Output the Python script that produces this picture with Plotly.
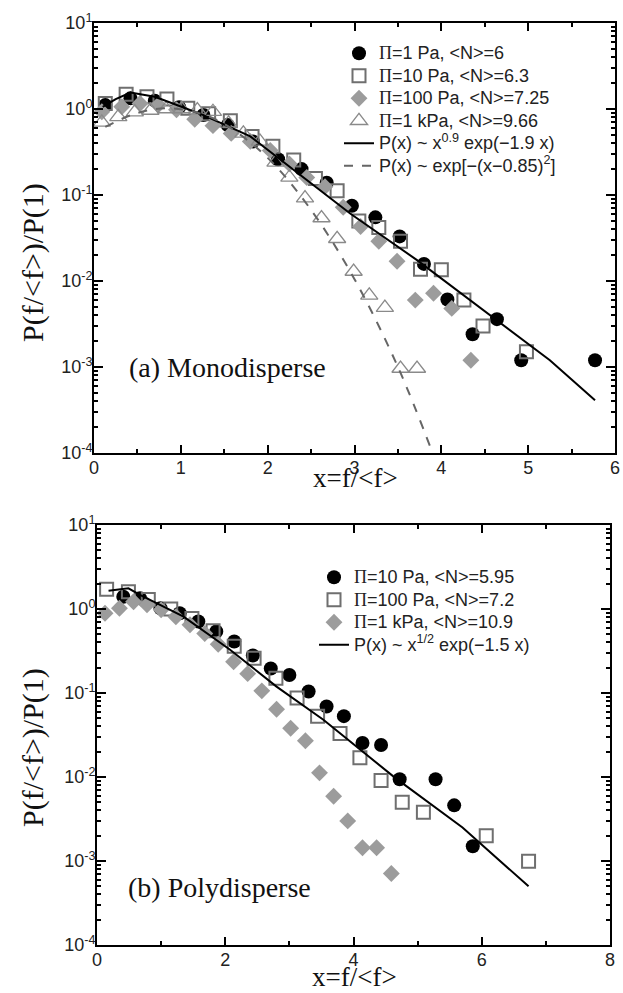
import plotly.graph_objects as go

W, H = 623, 993

# ---------------- Panel (a) Monodisperse ----------------
x_a_1pa = [0.13, 0.42, 0.70, 0.98, 1.26, 1.54, 1.83, 2.12, 2.39, 2.68, 2.97, 3.24, 3.52, 3.80, 4.07, 4.36, 4.64, 4.92, 5.77]
y_a_1pa = [1.11, 1.33, 1.25, 1.05, 0.85, 0.65, 0.42, 0.26, 0.20, 0.139, 0.075, 0.055, 0.033, 0.0158, 0.0061, 0.0024, 0.0036, 0.0012, 0.0012]

x_a_10pa = [0.13, 0.37, 0.61, 0.84, 1.08, 1.32, 1.57, 1.82, 2.06, 2.30, 2.55, 2.80, 3.05, 3.28, 3.53, 3.76, 4.00, 4.26, 4.48, 4.98]
y_a_10pa = [1.16, 1.48, 1.39, 1.31, 1.02, 0.88, 0.73, 0.48, 0.37, 0.255, 0.156, 0.112, 0.05, 0.042, 0.029, 0.0137, 0.0135, 0.006, 0.003, 0.0015]

x_a_100pa = [0.09, 0.32, 0.53, 0.74, 0.95, 1.16, 1.37, 1.58, 1.80, 2.03, 2.25, 2.45, 2.66, 2.87, 3.07, 3.28, 3.49, 3.70, 3.91, 4.12, 4.34]
y_a_100pa = [0.93, 1.06, 1.16, 1.11, 0.98, 0.76, 0.64, 0.52, 0.42, 0.33, 0.23, 0.16, 0.125, 0.072, 0.043, 0.029, 0.017, 0.006, 0.0072, 0.0048, 0.0012]

x_a_1kpa = [0.09, 0.28, 0.47, 0.65, 0.83, 1.01, 1.19, 1.37, 1.55, 1.72, 1.91, 2.09, 2.25, 2.43, 2.62, 2.80, 2.99, 3.17, 3.35, 3.53, 3.72]
y_a_1kpa = [0.70, 0.81, 0.92, 0.96, 1.0, 1.0, 0.97, 0.93, 0.68, 0.52, 0.42, 0.24, 0.16, 0.092, 0.054, 0.031, 0.0129, 0.0068, 0.0049, 0.00096, 0.00096]

fit_a_x = [0.10, 0.25, 0.42, 0.70, 1.00, 1.26, 1.80, 2.26, 2.64, 2.95, 3.72, 4.49, 5.25, 5.77]
fit_a_y = [1.06, 1.30, 1.55, 1.39, 1.07, 0.85, 0.48, 0.21, 0.105, 0.061, 0.0175, 0.0046, 0.0012, 0.00041]

gauss_x = [0.13, 0.50, 0.85, 1.20, 1.50, 2.00, 2.50, 3.00, 3.50, 3.90]
gauss_y = [0.62, 0.90, 1.02, 0.90, 0.67, 0.27, 0.067, 0.0105, 0.001, 0.0001]

# ---------------- Panel (b) Polydisperse ----------------
x_b_10pa = [0.41, 0.67, 0.99, 1.29, 1.58, 1.86, 2.14, 2.43, 2.71, 3.00, 3.30, 3.58, 3.85, 4.14, 4.43, 4.72, 5.28, 5.57, 5.86]
y_b_10pa = [1.40, 1.34, 1.02, 0.89, 0.71, 0.54, 0.41, 0.28, 0.196, 0.164, 0.104, 0.069, 0.053, 0.0254, 0.024, 0.0094, 0.0094, 0.0046, 0.0015]

x_b_100pa = [0.15, 0.49, 0.80, 1.15, 1.48, 1.81, 2.14, 2.45, 2.79, 3.12, 3.44, 3.79, 4.10, 4.43, 4.76, 5.09, 6.07, 6.73]
y_b_100pa = [1.72, 1.61, 1.30, 1.0, 0.77, 0.55, 0.36, 0.26, 0.15, 0.087, 0.053, 0.033, 0.017, 0.0091, 0.005, 0.0038, 0.0020, 0.00099]

x_b_1kpa = [0.125, 0.35, 0.57, 0.78, 1.0, 1.23, 1.45, 1.68, 1.89, 2.13, 2.35, 2.57, 2.80, 3.02, 3.25, 3.47, 3.69, 3.91, 4.14, 4.36, 4.59]
y_b_1kpa = [0.89, 1.02, 1.22, 1.12, 0.98, 0.81, 0.65, 0.51, 0.38, 0.236, 0.17, 0.106, 0.064, 0.038, 0.027, 0.0112, 0.0059, 0.0030, 0.00144, 0.00144, 0.00071]

fit_b_x = [0.18, 0.49, 0.67, 1.35, 2.07, 2.80, 3.53, 4.64, 5.70, 6.73]
fit_b_y = [1.65, 1.76, 1.47, 0.81, 0.33, 0.119, 0.048, 0.0099, 0.0025, 0.0005]

# tick labels
y_tickvals = [1e-4, 1e-3, 1e-2, 1e-1, 1e0, 1e1]
y_ticktext = ["10<sup>-4</sup>", "10<sup>-3</sup>", "10<sup>-2</sup>", "10<sup>-1</sup>", "10<sup>0</sup>", "10<sup>1</sup>"]
xa_tickvals = [0, 1, 2, 3, 4, 5, 6]
xb_tickvals = [0, 2, 4, 6, 8]

SANS = "Liberation Sans, Arial, sans-serif"
SERIF = "Liberation Serif, Times New Roman, serif"

BLACK = "#000000"
SQ = "#6f6f6f"
DIA = "#9c9c9c"
TRI = "#8a8a8a"


def lg(text):
    # legend label: serif capital Pi, larger text than the legend's row pitch
    text = text.replace("Π", '<span style="font-family:Liberation Serif">Π</span>')
    return '<span style="font-size:18px">' + text + "</span>"


def px_x(p):
    return p / W


def px_y(p):
    return 1 - p / H


fig = go.Figure()

# ---- panel a traces
fig.add_trace(go.Scatter(x=x_a_1pa, y=y_a_1pa, mode="markers", name=lg("Π=1 Pa, <N>=6"),
                         marker=dict(symbol="circle", size=14, color=BLACK), xaxis="x", yaxis="y", legend="legend"))
fig.add_trace(go.Scatter(x=x_a_10pa, y=y_a_10pa, mode="markers", name=lg("Π=10 Pa, <N>=6.3"),
                         marker=dict(symbol="square-open", size=13, color=SQ, line=dict(width=2, color=SQ)),
                         xaxis="x", yaxis="y", legend="legend"))
fig.add_trace(go.Scatter(x=x_a_100pa, y=y_a_100pa, mode="markers", name=lg("Π=100 Pa, <N>=7.25"),
                         marker=dict(symbol="diamond", size=13, color=DIA), xaxis="x", yaxis="y", legend="legend"))
fig.add_trace(go.Scatter(x=x_a_1kpa, y=y_a_1kpa, mode="markers", name=lg("Π=1 kPa, <N>=9.66"),
                         marker=dict(symbol="triangle-up-open", size=15, color=TRI, line=dict(width=1.3, color=TRI)),
                         xaxis="x", yaxis="y", legend="legend"))
fig.add_trace(go.Scatter(x=fit_a_x, y=fit_a_y, mode="lines", name=lg("P(x) ~ x<sup>0.9</sup> exp(−1.9 x)"),
                         line=dict(color=BLACK, width=2), xaxis="x", yaxis="y", legend="legend"))
fig.add_trace(go.Scatter(x=gauss_x, y=gauss_y, mode="lines", name=lg("P(x) ~ exp[−(x−0.85)<sup>2</sup>]"),
                         line=dict(color="#666666", width=2, dash="dash", shape="spline"),
                         xaxis="x", yaxis="y", legend="legend"))

# ---- panel b traces
fig.add_trace(go.Scatter(x=x_b_10pa, y=y_b_10pa, mode="markers", name=lg("Π=10 Pa, <N>=5.95"),
                         marker=dict(symbol="circle", size=14, color=BLACK), xaxis="x2", yaxis="y2", legend="legend2"))
fig.add_trace(go.Scatter(x=x_b_100pa, y=y_b_100pa, mode="markers", name=lg("Π=100 Pa, <N>=7.2"),
                         marker=dict(symbol="square-open", size=13, color=SQ, line=dict(width=2, color=SQ)),
                         xaxis="x2", yaxis="y2", legend="legend2"))
fig.add_trace(go.Scatter(x=x_b_1kpa, y=y_b_1kpa, mode="markers", name=lg("Π=1 kPa, <N>=10.9"),
                         marker=dict(symbol="diamond", size=13, color=DIA), xaxis="x2", yaxis="y2", legend="legend2"))
fig.add_trace(go.Scatter(x=fit_b_x, y=fit_b_y, mode="lines", name=lg("P(x) ~ x<sup>1/2</sup> exp(−1.5 x)"),
                         line=dict(color=BLACK, width=2), xaxis="x2", yaxis="y2", legend="legend2"))


def xaxis_cfg(domain, rng, tickvals, minor_dtick, anchor):
    return dict(domain=domain, range=rng, anchor=anchor, tickvals=tickvals, automargin=False,
                ticks="inside", ticklen=8, tickwidth=2, tickcolor=BLACK, ticklabelstandoff=-3,
                showline=True, linewidth=2, linecolor=BLACK, mirror="allticks",
                showgrid=False, zeroline=False,
                tickfont=dict(family=SANS, size=18, color="#222222"),
                minor=dict(dtick=minor_dtick, ticks="inside", ticklen=4, tickwidth=2, tickcolor=BLACK, showgrid=False))


def yaxis_cfg(domain, anchor):
    return dict(domain=domain, type="log", range=[-4, 1], anchor=anchor, automargin=False,
                tickvals=y_tickvals, ticktext=y_ticktext,
                ticks="inside", ticklen=9, tickwidth=2, tickcolor=BLACK, ticklabelstandoff=-4,
                showline=True, linewidth=2, linecolor=BLACK, mirror="allticks",
                showgrid=False, zeroline=False,
                tickfont=dict(family=SANS, size=18, color="#222222"),
                minor=dict(dtick="D1", ticks="inside", ticklen=4, tickwidth=1.5, tickcolor=BLACK, showgrid=False))


layout = dict(
    width=W, height=H,
    margin=dict(l=0, r=0, t=0, b=0, autoexpand=False),
    paper_bgcolor="white", plot_bgcolor="white",
    xaxis=xaxis_cfg([px_x(94), px_x(615)], [0, 6], xa_tickvals, 0.5, "y"),
    yaxis=yaxis_cfg([px_y(453), px_y(23)], "x"),
    xaxis2=xaxis_cfg([px_x(97), px_x(610)], [0, 8], xb_tickvals, 1, "y2"),
    yaxis2=yaxis_cfg([px_y(945), px_y(525)], "x2"),
    legend=dict(x=px_x(339), y=px_y(37), xanchor="left", yanchor="top",
                bgcolor="rgba(0,0,0,0)", borderwidth=0, tracegroupgap=0,
                font=dict(family=SANS, size=15, color="#222222")),
    legend2=dict(x=px_x(314), y=px_y(561), xanchor="left", yanchor="top",
                 bgcolor="rgba(0,0,0,0)", borderwidth=0, tracegroupgap=0,
                 font=dict(family=SANS, size=15, color="#222222")),
    showlegend=True,
)
fig.update_layout(**layout)

annotations = [
    dict(text="(a) Monodisperse", x=px_x(127), y=px_y(367), xanchor="left", yanchor="middle",
         font=dict(family=SERIF, size=28, color="#111111")),
    dict(text="(b) Polydisperse", x=px_x(126), y=px_y(887), xanchor="left", yanchor="middle",
         font=dict(family=SERIF, size=28, color="#111111")),
    dict(text="x=f/<f>", x=px_x(355), y=px_y(478), xanchor="center", yanchor="middle",
         font=dict(family=SERIF, size=27, color="#111111")),
    dict(text="x=f/<f>", x=px_x(354), y=px_y(977), xanchor="center", yanchor="middle",
         font=dict(family=SERIF, size=27, color="#111111")),
    dict(text="P(f/<f>)/P(1)", x=px_x(33), y=px_y(263), xanchor="center", yanchor="middle", textangle=-90,
         font=dict(family=SERIF, size=30, color="#111111")),
    dict(text="P(f/<f>)/P(1)", x=px_x(33), y=px_y(748), xanchor="center", yanchor="middle", textangle=-90,
         font=dict(family=SERIF, size=30, color="#111111")),
]
for a in annotations:
    a.update(xref="paper", yref="paper", showarrow=False)
fig.update_layout(annotations=annotations)

fig.write_html("out.html", config={"displayModeBar": False},
               post_script="document.body.style.margin='0px';document.body.style.overflow='hidden';")
